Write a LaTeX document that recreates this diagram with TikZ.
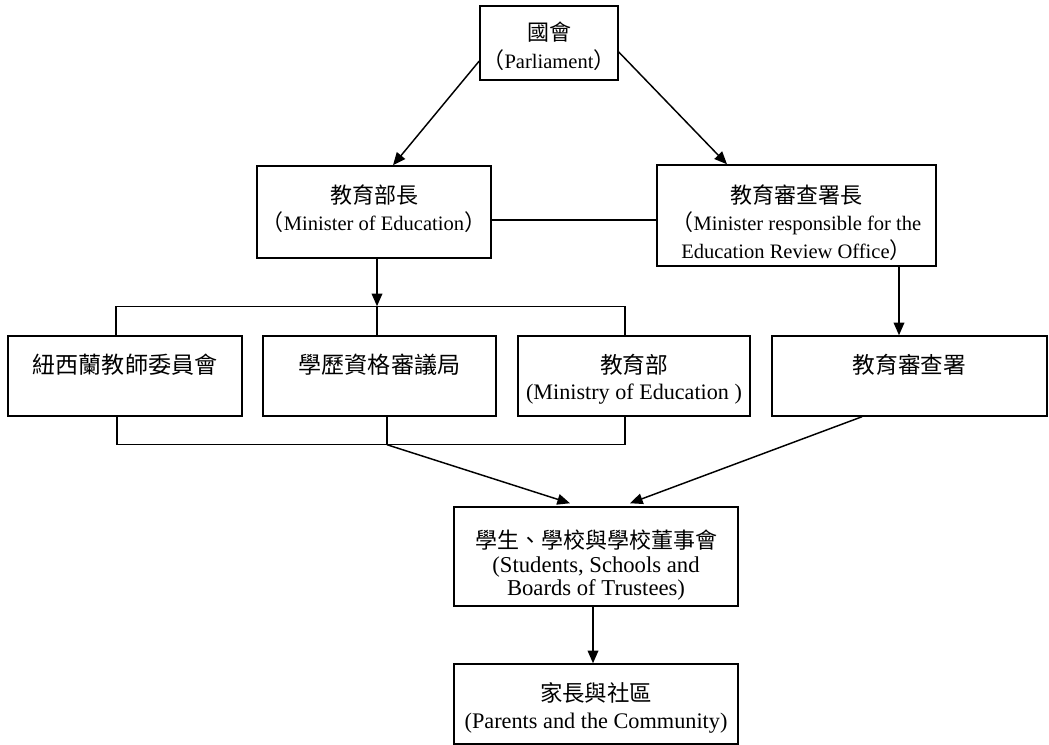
\documentclass[tikz,border=0pt]{standalone}
\usepackage{fontspec}
\setmainfont{Liberation Serif}
\newfontfamily\cjk{Noto Sans CJK TC}
\usetikzlibrary{arrows.meta,calc}
\newcommand\zh[2][16.5]{{\cjk\fontsize{#1}{0}\selectfont #2}}
\tikzset{
  box/.style={draw, line width=1.1pt, inner sep=0pt},
  txt/.style={inner sep=0pt, align=center},
  arr/.style={line width=1.1pt, -{Triangle[length=9.5pt,width=8pt]}},
  ln/.style={line width=1.1pt},
  topf/.style={font=\fontsize{15.4}{21}\selectfont},
  moef/.style={font=\fontsize{15.4}{20}\selectfont},
  erof/.style={font=\fontsize{15.4}{20.6}\selectfont},
  midf/.style={font=\fontsize{16.6}{19.5}\selectfont},
  stuf/.style={font=\fontsize{17}{17.6}\selectfont},
  parf/.style={font=\fontsize{16.7}{20.3}\selectfont},
}
\begin{document}
\begin{tikzpicture}[x=0.75pt,y=-0.75pt]
\useasboundingbox (0,0) rectangle (1049,745);
% boxes
\node[box, minimum width=103.5pt, minimum height=55.5pt] (par) at (549,43) {};
\node[box, minimum width=175.5pt, minimum height=69pt] (moe) at (374,212) {};
\node[box, minimum width=209.25pt, minimum height=75.75pt] (mero) at (796.5,215.5) {};
\node[box, minimum width=175.5pt, minimum height=60pt] (b1) at (125,376) {};
\node[box, minimum width=174.75pt, minimum height=60pt] (b2) at (379.5,376) {};
\node[box, minimum width=174pt, minimum height=60pt] (b3) at (634,376) {};
\node[box, minimum width=206.25pt, minimum height=60pt] (b4) at (909.5,376) {};
\node[box, minimum width=213pt, minimum height=74.25pt] (stu) at (596,556.5) {};
\node[box, minimum width=213pt, minimum height=60pt] (parents) at (596,704) {};
% texts
\node[txt, topf] (par-t) at ($(par)+(0,3.5)$)
  {\zh{國會}\\\zh{（}Parliament\zh{）}};
\node[txt, moef] (moe-t) at ($(moe)+(0,-3)$)
  {\zh{教育部長}\\\zh{（}Minister of Education\zh{）}};
\node[txt, erof] (mero-t) at ($(mero)+(0,7)$)
  {\zh{教育審查署長}\\\zh{（}Minister responsible for the\\Education Review Office\zh{）}};
\node[txt] (b1-t) at (125,365) {\zh[17.3]{紐西蘭教師委員會}};
\node[txt] (b2-t) at (379.5,365) {\zh[17.3]{學歷資格審議局}};
\node[txt, midf] (b3-t) at ($(b3)+(0,3)$)
  {\zh[17]{教育部}\\(Ministry of Education )};
\node[txt] (b4-t) at (909.5,365) {\zh[17]{教育審查署}};
\node[txt, stuf] (stu-t) at ($(stu)+(0,9)$)
  {\zh{學生、學校與學校董事會}\\(Students, Schools and\\Boards of Trustees)};
\node[txt, parf] (parents-t) at ($(parents)+(0,4)$)
  {\zh[16.8]{家長與社區}\\(Parents and the Community)};

% Parliament to ministers
\draw[arr] ($(par.west)+(0,18)$) -- ($(moe.north)+(19,0)$);
\draw[arr] ($(par.east)+(0,9)$) -- ($(mero.north)+(-69.5,0)$);
% link between ministers
\draw[ln] ($(moe.east)+(0,8)$) -- ($(mero.west)+(0,4.5)$);
% top bracket
\coordinate (tj) at ($(b2.north)+(-2.5,-29)$);
\draw[ln] ($(b1.north)+(-9,0)$) |- (tj) -| ($(b3.north)+(-9,0)$);
\draw[ln] ($(b2.north)+(-2.5,0)$) -- (tj);
\draw[arr] ($(moe.south)+(3,0)$) -- (tj);
% ERO minister to ERO
\draw[arr] ($(mero.south)+(102.5,0)$) -- ($(b4.north)+(-10.5,0)$);
% bottom bracket
\coordinate (bj) at ($(b2.south)+(7.5,28)$);
\draw[ln] ($(b1.south)+(-8,0)$) |- (bj) -| ($(b3.south)+(-9,0)$);
\draw[ln] ($(b2.south)+(7.5,0)$) -- (bj);
\draw[arr] (bj) -- ($(stu.north)+(-26,-3)$);
\draw[arr] ($(b4.south)+(-47.5,0)$) -- ($(stu.north)+(34,-3)$);
% students to parents
\draw[arr] ($(stu.south)+(-3,0)$) -- ($(parents.north)+(-3,0)$);
\end{tikzpicture}
\end{document}
